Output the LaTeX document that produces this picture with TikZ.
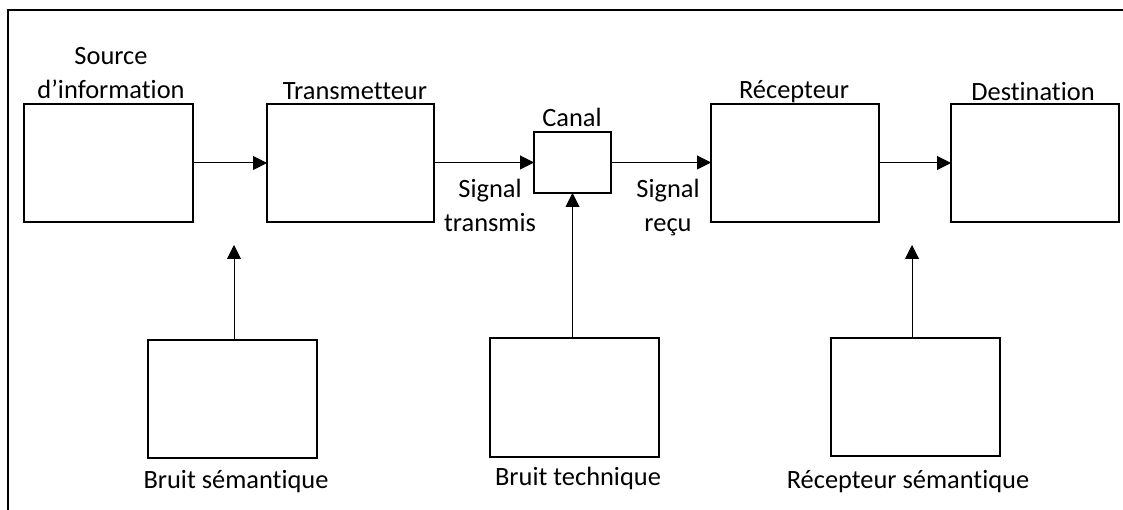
\documentclass[tikz,border=0pt]{standalone}
\usepackage{fontspec}
\setmainfont{Carlito}[Ligatures={NoCommon}]
\usetikzlibrary{arrows.meta}
\begin{document}
\begin{tikzpicture}[x=1pt,y=-1pt,
  box/.style={draw,line width=2.3pt,inner sep=0pt,outer sep=0pt,minimum height=118pt},
  txt/.style={font=\fontsize{26.4}{30}\selectfont,anchor=base,inner sep=0pt,outer sep=0pt},
  ar/.style={-{Triangle[length=14pt,width=14pt]},line width=1pt}]
\useasboundingbox (0,0) rectangle (1123,510);
\clip (0,0) rectangle (1123,510);
\fill[white] (0,0) rectangle (1123,510);
% frame
\draw[line width=2.3pt] (8,530) -- (8,10) -- (1140,10);
% top boxes
\node[box,minimum width=169pt] (src) at (108.5,163) {};
\node[box,minimum width=167pt] (trans) at (350.5,163) {};
\node[box,minimum width=77pt,minimum height=61pt] (canal) at (572.5,162.5) {};
\node[box,minimum width=168pt] (recv) at (795,163) {};
\node[box,minimum width=168pt] (dest) at (1035,163) {};
% bottom boxes
\node[box,minimum width=169pt] (bs) at (232.5,399) {};
\node[box,minimum width=169pt,minimum height=119pt] (bt) at (574.5,397.5) {};
\node[box,minimum width=169pt] (rs) at (915.5,397) {};
% labels
\node[txt] (srcA) at (111,65) {Source};
\node[txt] (srcB) at (111,99) {d’information};
\node[txt] (transL) at (355,100) {Transmetteur};
\node[txt] (canalL) at (572,127) {Canal};
\node[txt] (recvL) at (794,99) {Récepteur};
\node[txt] (destL) at (1033,101) {Destination};
\node[txt] (stA) at (490,198) {Signal};
\node[txt] (stB) at (490,232) {transmis};
\node[txt] (srA) at (668,198) {Signal};
\node[txt] (srB) at (668,232) {reçu};
\node[txt] (bsL) at (236,488) {Bruit sémantique};
\node[txt] (btL) at (578,485) {Bruit technique};
\node[txt] (rsL) at (908,488) {Récepteur sémantique};
% horizontal arrows
\draw[ar] (src.east) -- (trans.west);
\draw[ar] (trans.east |- canal.west) -- (canal.west);
\draw[ar] (canal.east) -- (canal.east -| recv.west);
\draw[ar] (recv.east) -- (dest.west);
% vertical arrows
\coordinate (bsTip) at (234,245);
\coordinate (rsTip) at (912,245);
\draw[ar] (bs.north -| bsTip) -- (bsTip);
\draw[ar] (bt.north -| canal.south) -- (canal.south);
\draw[ar] (rs.north -| rsTip) -- (rsTip);
\end{tikzpicture}
\end{document}
